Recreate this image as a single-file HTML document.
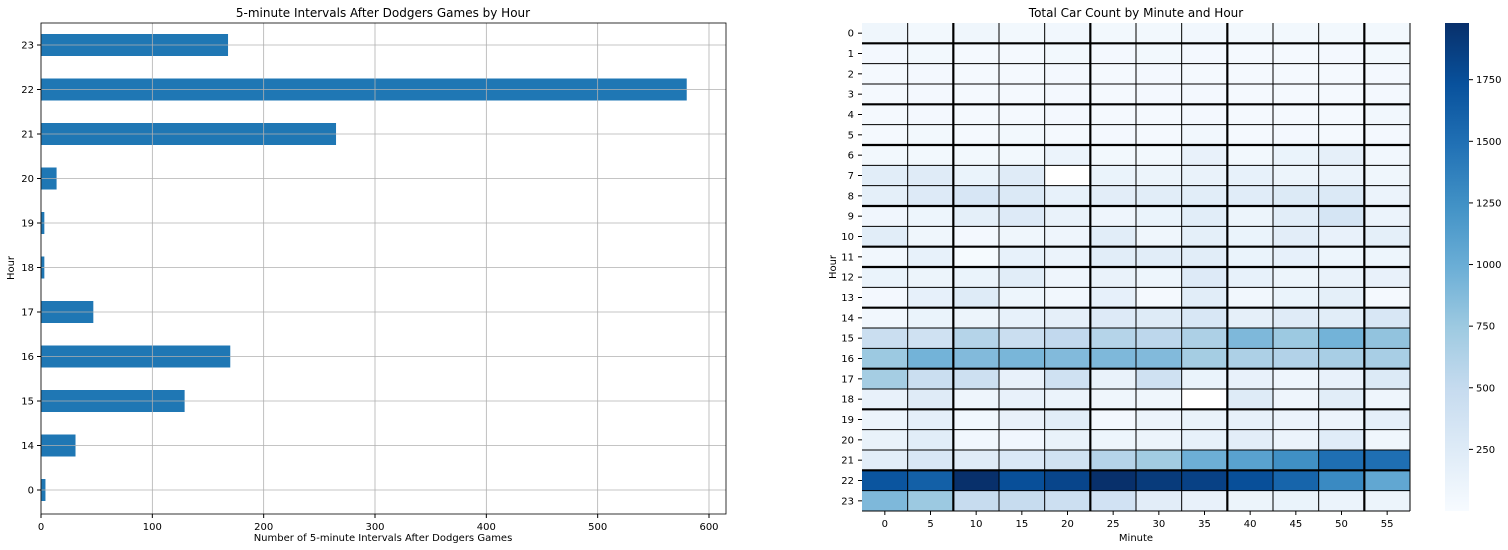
<!DOCTYPE html>
<html><head><meta charset="utf-8"><style>
body{margin:0;background:#fff;}
svg{display:block;font-family:"DejaVu Sans","Liberation Sans",sans-serif;}
</style></head><body>
<svg id="s" width="1508" height="550"></svg>
<script>
const barCats=["23","22","21","20","19","18","17","16","15","14","0"];
const barVals=[168,580,265,14,3,3,47,170,129,31,4];
const xTicks=[0,100,200,300,400,500,600];
const minutes=[0,5,10,15,20,25,30,35,40,45,50,55];
const hours=[0,1,2,3,4,5,6,7,8,9,10,11,12,13,14,15,16,17,18,19,20,21,22,23];
const cbTicks=[250,500,750,1000,1250,1500,1750];
const heat=[
[80,50,80,50,60,50,50,60,50,50,50,50],
[40,50,30,30,50,40,50,40,30,30,40,50],
[30,40,30,30,40,30,40,30,30,30,30,40],
[30,40,30,30,40,30,40,40,30,30,30,40],
[30,40,30,30,40,30,30,40,30,30,30,60],
[30,50,30,50,30,40,30,60,30,40,30,40],
[50,50,50,50,120,50,50,150,50,130,180,60],
[220,240,130,240,null,130,110,140,160,110,120,80],
[190,260,320,280,160,210,220,220,230,270,280,120],
[70,100,190,260,140,90,130,220,110,220,340,120],
[220,80,40,80,90,220,80,190,130,210,150,190],
[60,160,20,160,120,220,220,220,130,170,100,100],
[130,110,130,220,90,140,100,260,160,110,140,150],
[40,170,250,100,60,170,30,220,60,130,190,30],
[60,130,110,160,180,260,250,310,180,240,220,310],
[450,400,600,450,520,600,550,650,900,750,950,800],
[750,950,880,920,880,900,880,700,650,620,680,680],
[700,450,420,150,400,140,400,130,150,90,150,270],
[150,240,90,150,120,80,80,null,250,90,220,90],
[110,190,60,150,220,40,110,140,160,120,110,190],
[140,220,60,70,140,100,110,160,210,120,230,80],
[210,310,240,290,390,600,720,980,1100,1250,1500,1500],
[1700,1620,1980,1750,1820,1980,1900,1850,1750,1580,1300,1050],
[900,750,480,480,430,380,210,150,110,130,120,110]];
const VMIN=0,VMAX=1980;

const NS="http://www.w3.org/2000/svg";
const svg=document.getElementById('s');
function el(t,a,p){const e=document.createElementNS(NS,t);for(const k in a)e.setAttribute(k,a[k]);(p||svg).appendChild(e);return e;}
function txt(s,a,p){const e=el('text',a,p);e.textContent=s;return e;}
const blues=["#f7fbff","#deebf7","#c6dbef","#9ecae1","#6baed6","#4292c6","#2171b5","#08519c","#08306b"];
function hx(c){return [1,3,5].map(i=>parseInt(c.substr(i,2),16));}
function cmap(v){if(v===null)return '#ffffff';let t=Math.max(0,Math.min(1,(v-VMIN)/(VMAX-VMIN)))*8;let i=Math.min(7,Math.floor(t)),f=t-i;const a=hx(blues[i]),b=hx(blues[i+1]);return `rgb(${a.map((x,k)=>Math.round(x+(b[k]-x)*f)).join(',')})`;}

// ---- left bar chart ----
const L={x0:41,x1:726,y0:23,y1:514};
const xs=v=>L.x0+v*(668/600);
const ys=i=>45+i*44.5;
let t=txt("5-minute Intervals After Dodgers Games by Hour",{x:383,y:17,'font-size':12,'text-anchor':'middle'});

barVals.forEach((v,i)=>{const r=el('rect',{x:L.x0,y:ys(i)-11,width:xs(v)-L.x0,height:22,fill:'#1f77b4'});
});
xTicks.forEach(v=>{const x=xs(v);el('line',{x1:x,x2:x,y1:L.y0,y2:L.y1,stroke:'#b0b0b0','stroke-width':0.8});
el('line',{x1:x,x2:x,y1:L.y1,y2:L.y1+4,stroke:'#000'});
const l=txt(String(v),{x:x,y:L.y1+16,'font-size':10,'text-anchor':'middle'});});
barCats.forEach((c,i)=>{const y=ys(i);el('line',{x1:L.x0,x2:L.x1,y1:y,y2:y,stroke:'#b0b0b0','stroke-width':0.8});
el('line',{x1:L.x0-4,x2:L.x0,y1:y,y2:y,stroke:'#000'});
const l=txt(c,{x:L.x0-7,y:y+3.5,'font-size':10,'text-anchor':'end'});});
el('rect',{x:L.x0,y:L.y0,width:L.x1-L.x0,height:L.y1-L.y0,fill:'none',stroke:'#000','stroke-width':0.8});
t=txt("Number of 5-minute Intervals After Dodgers Games",{x:383,y:541,'font-size':10,'text-anchor':'middle'});

t=txt("Hour",{x:14,y:268,'font-size':10,'text-anchor':'middle',transform:'rotate(-90 14 268)'});


// ---- heatmap ----
const H={x0:862,x1:1410,y0:23,y1:511};
const cw=(H.x1-H.x0)/minutes.length, ch=(H.y1-H.y0)/hours.length;
t=txt("Total Car Count by Minute and Hour",{x:1136,y:17,'font-size':12,'text-anchor':'middle'});

hours.forEach((h,r)=>minutes.forEach((m,c)=>{const e=el('rect',{x:H.x0+c*cw,y:H.y0+r*ch,width:cw,height:ch,fill:cmap(heat[r][c])});
}));
const thickR=[1,4,6,9,11,12,14,17,19,22], thickC=[2,5,8,11];
for(let r=1;r<hours.length;r++){const y=H.y0+r*ch;el('line',{x1:H.x0,x2:H.x1,y1:y,y2:y,stroke:'#000','stroke-width':thickR.includes(r)?2.2:1});}
for(let c=1;c<minutes.length;c++){const x=H.x0+c*cw;el('line',{x1:x,x2:x,y1:H.y0,y2:H.y1,stroke:'#000','stroke-width':thickC.includes(c)?2.2:1});}
el('line',{x1:H.x1,x2:H.x1,y1:H.y0,y2:H.y1,stroke:'#000','stroke-width':1});
el('line',{x1:H.x0,x2:H.x1,y1:H.y1,y2:H.y1,stroke:'#000','stroke-width':1});
minutes.forEach((m,c)=>{const x=H.x0+(c+.5)*cw;el('line',{x1:x,x2:x,y1:H.y1,y2:H.y1+4,stroke:'#000'});
const l=txt(String(m),{x:x,y:H.y1+16,'font-size':10,'text-anchor':'middle'});});
hours.forEach((h,r)=>{const y=H.y0+(r+.5)*ch;el('line',{x1:H.x0-4,x2:H.x0,y1:y,y2:y,stroke:'#000'});
const l=txt(String(h),{x:H.x0-8,y:y+3.5,'font-size':10,'text-anchor':'end'});});
t=txt("Minute",{x:1136,y:541,'font-size':10,'text-anchor':'middle'});
t=txt("Hour",{x:836,y:267,'font-size':10,'text-anchor':'middle',transform:'rotate(-90 836 267)'});

// colorbar
const C={x0:1445,x1:1469,y0:23,y1:511};
const defs=el('defs',{});const g=el('linearGradient',{id:'cb',x1:0,y1:1,x2:0,y2:0},defs);
blues.forEach((b,i)=>el('stop',{offset:(i/8),'stop-color':b},g));
const cb=el('rect',{x:C.x0,y:C.y0,width:C.x1-C.x0,height:C.y1-C.y0,fill:'url(#cb)'});

const cy=v=>C.y1-(v-VMIN)/(VMAX-VMIN)*(C.y1-C.y0);
cbTicks.forEach(v=>{const y=cy(v);el('line',{x1:C.x1,x2:C.x1+4,y1:y,y2:y,stroke:'#000'});
const l=txt(String(v),{x:C.x1+7,y:y+3.5,'font-size':10});});
</script>
</body></html>
